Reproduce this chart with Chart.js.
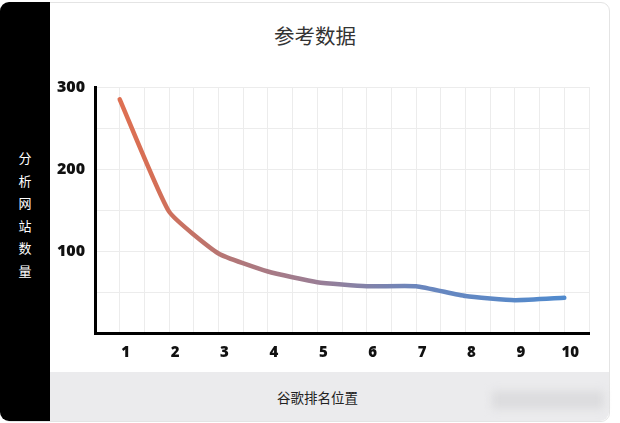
<!DOCTYPE html>
<html>
<head>
<meta charset="utf-8">
<script src="https://cdn.jsdelivr.net/npm/chart.js@4"></script>
<style>
  html, body { margin:0; padding:0; background:#fff; width:620px; height:423px; overflow:hidden; }
  #card { position:absolute; left:2px; top:2px; width:606px; height:418px; border:1px solid #e4e4e4; border-radius:9px; background:#fff; overflow:hidden; }
  #side { position:absolute; left:0; top:2px; width:50px; height:419px; background:#000; border-radius:9px 0 0 9px; }
  #sideText { position:absolute; left:0; top:145px; width:50px; color:#fff; font-family:"Noto Sans CJK SC"; font-size:13px; line-height:22.6px; text-align:center; }
  #band { position:absolute; left:50px; top:372px; width:559px; height:49px; background:#ebebed; border-radius:0 0 9px 0; }
  #blur { position:absolute; left:492px; top:391px; width:112px; height:18px; background:#dcdcde; filter:blur(4px); }
  #xtitle { position:absolute; left:50px; top:387px; width:535px; text-align:center; font-family:"Noto Sans CJK SC"; font-size:13.5px; color:#222; }
  #title { position:absolute; left:50px; top:20px; width:530px; text-align:center; font-family:"Noto Sans CJK SC"; font-size:20.5px; color:#333; }
  #wrap { position:absolute; left:50px; top:0; width:560px; height:372px; }
</style>
</head>
<body>
<div id="card"></div>
<div id="band"></div>
<div id="blur"></div>
<div id="side"><div id="sideText">分<br>析<br>网<br>站<br>数<br>量</div></div>
<div id="title">参考数据</div>
<div id="xtitle">谷歌排名位置</div>
<div id="wrap"><canvas id="c"></canvas></div>
<script>
const rankings = [1, 2, 3, 4, 5, 6, 7, 8, 9, 10];
const siteCounts = [285, 148, 97, 75, 62, 57, 57, 45, 40, 43];
const yTickLabels = [100, 200, 300];

const points = rankings.map((r, i) => ({ x: r, y: siteCounts[i] }));

function lineGradient(ctx) {
  const chart = ctx.chart;
  const area = chart.chartArea;
  if (!area) return '#e27152';
  const g = chart.ctx.createLinearGradient(area.left, 0, area.right, 0);
  g.addColorStop(0, '#e5704f');
  g.addColorStop(0.12, '#d56f56');
  g.addColorStop(0.27, '#b47676');
  g.addColorStop(0.45, '#9a7e95');
  g.addColorStop(0.65, '#6b86bd');
  g.addColorStop(1, '#4c8bd0');
  return g;
}

new Chart(document.getElementById('c'), {
  type: 'line',
  data: {
    datasets: [{
      data: points,
      borderColor: lineGradient,
      borderWidth: 4.5,
      pointRadius: 0,
      tension: 0.15,
      borderCapStyle: 'round',
      borderJoinStyle: 'round',
      fill: false
    }]
  },
  options: {
    responsive: true,
    maintainAspectRatio: false,
    animation: false,
    layout: { padding: { top: 87, right: 21, left: 0, bottom: 0 } },
    plugins: { legend: { display: false }, tooltip: { enabled: false }, title: { display: false } },
    scales: {
      x: {
        type: 'linear',
        min: 0.5,
        max: 10.5,
        afterBuildTicks: (scale) => {
          const t = [];
          for (let i = 0; i <= 20; i++) t.push({ value: 0.5 + i * 0.5 });
          scale.ticks = t;
        },
        afterFit: (scale) => { scale.height = 39; },
        grid: { color: '#ececec', lineWidth: 1, drawTicks: false },
        border: { display: true, color: '#000', width: 3 },
        ticks: {
          autoSkip: false,
          maxRotation: 0,
          padding: 11,
          labelOffset: 6,
          color: '#111',
          font: { family: 'Open Sans', weight: 800, size: 15 },
          callback: (v) => (rankings.includes(v) ? String(v) : '')
        }
      },
      y: {
        min: 0,
        max: 300,
        afterBuildTicks: (scale) => {
          const t = [];
          for (let v = 0; v <= 300; v += 50) t.push({ value: v });
          scale.ticks = t;
        },
        afterFit: (scale) => { scale.width = 45; },
        grid: { color: '#ececec', lineWidth: 1, drawTicks: false },
        border: { display: true, color: '#000', width: 3 },
        ticks: {
          padding: 10,
          color: '#111',
          font: { family: 'Open Sans', weight: 800, size: 16 },
          callback: (v) => (yTickLabels.includes(v) ? String(v) : '')
        }
      }
    }
  }
});
</script>
</body>
</html>
